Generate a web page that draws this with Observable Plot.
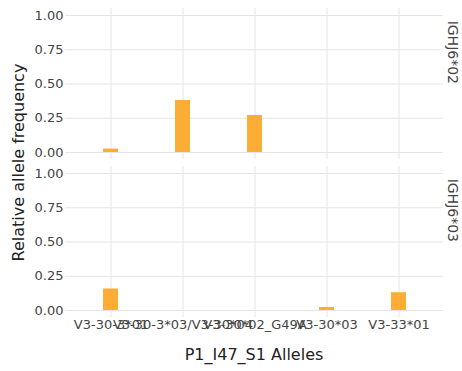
<!DOCTYPE html>
<html>
<head>
<meta charset="utf-8">
<script src="https://cdn.jsdelivr.net/npm/d3@7"></script>
<script src="https://cdn.jsdelivr.net/npm/@observablehq/plot@0.6"></script>
<style>
  html, body { margin: 0; padding: 0; background: white; }
  #chart { width: 462px; height: 371px; }
</style>
</head>
<body>
<div id="chart"></div>
<script>
const alleles = ["V3-30-3*01", "V3-30-3*03/V3-30*04", "V3-30*02_G49A", "V3-30*03", "V3-33*01"];
const genotypes = ["IGHJ6*02", "IGHJ6*03"];
const freqJ602 = [0.025, 0.38, 0.27, 0, 0];
const freqJ603 = [0.157, 0, 0, 0.022, 0.13];
const yTicks = [0, 0.25, 0.5, 0.75, 1];
const xTitle = "P1_I47_S1 Alleles";
const yTitle = "Relative allele frequency";
const barColor = "#fbad36";

const rows = [];
alleles.forEach((a, i) => {
  if (freqJ602[i] > 0) rows.push({allele: a, geno: genotypes[0], freq: freqJ602[i]});
  if (freqJ603[i] > 0) rows.push({allele: a, geno: genotypes[1], freq: freqJ603[i]});
});

const W = 462, H = 371;
const mL = 65, mR = 19, mT = 7, mB = 53;

const chart = Plot.plot({
  width: W, height: H,
  marginTop: mT, marginBottom: mB, marginLeft: mL, marginRight: mR,
  style: {fontFamily: "DejaVu Sans, Verdana, sans-serif", fontSize: "13px", color: "#444", background: "white", overflow: "visible"},
  x: {domain: alleles, paddingInner: 0.795, paddingOuter: 0.487, label: null},
  y: {domain: [0, 1], insetTop: 7, insetBottom: 7, label: null},
  fy: {domain: genotypes, paddingInner: 0.044, paddingOuter: 0, label: null, axis: null},
  marks: [
    Plot.gridY(yTicks, {stroke: "#e6e6e6", strokeOpacity: 1, strokeWidth: 1}),
    Plot.gridX(alleles, {stroke: "#e6e6e6", strokeOpacity: 1, strokeWidth: 1}),
    Plot.axisY(yTicks, {tickSize: 0, tickPadding: 2, tickFormat: d3.format(".2f"), fill: "#444", fontSize: 13, label: null}),
    Plot.axisX(alleles, {tickSize: 0, tickPadding: 2, fill: "#444", fontSize: 13, label: null}),
    Plot.barY(rows, {x: "allele", y: "freq", fy: "geno", fill: barColor}),
    Plot.text(genotypes, {fy: d => d, text: d => d, frameAnchor: "right", rotate: 90, dx: 9, fontSize: 14, fill: "#444"})
  ]
});

const svg = d3.select(chart.tagName.toLowerCase() === "svg" ? chart : chart.querySelector("svg"));
svg.append("text")
  .attr("transform", `translate(18,${(mT + H - mB) / 2}) rotate(-90)`)
  .attr("text-anchor", "middle").attr("dominant-baseline", "central")
  .attr("font-family", "DejaVu Sans, Verdana, sans-serif").attr("font-size", 16).attr("fill", "#222")
  .text(yTitle);
svg.append("text")
  .attr("x", (mL + W - mR) / 2).attr("y", 354)
  .attr("text-anchor", "middle").attr("dominant-baseline", "central")
  .attr("font-family", "DejaVu Sans, Verdana, sans-serif").attr("font-size", 16).attr("fill", "#222")
  .text(xTitle);

document.getElementById("chart").appendChild(chart);
</script>
</body>
</html>
